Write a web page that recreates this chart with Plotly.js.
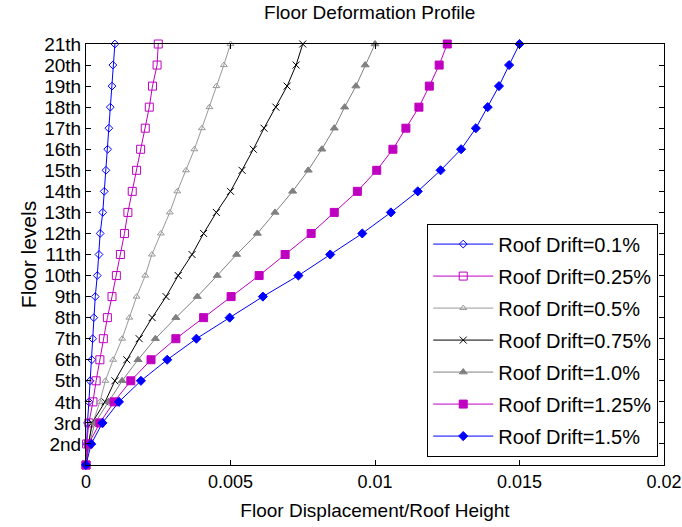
<!DOCTYPE html>
<html>
<head>
<meta charset="utf-8">
<script src="https://cdn.plot.ly/plotly-3.0.1.min.js"></script>
<style>html,body{margin:0;padding:0;background:#fff;}#chart{width:682px;height:527px;}</style>
</head>
<body>
<div id="chart"></div>
<script>
const floors = [1,2,3,4,5,6,7,8,9,10,11,12,13,14,15,16,17,18,19,20,21];
const floorTickVals = [2,3,4,5,6,7,8,9,10,11,12,13,14,15,16,17,18,19,20,21];
const floorTickText = ["2nd","3rd","4th","5th","6th","7th","8th","9th","10th","11th","12th","13th","14th","15th","16th","17th","18th","19th","20th","21th"];
const seriesNames = ["Roof Drift=0.1%","Roof Drift=0.25%","Roof Drift=0.5%","Roof Drift=0.75%","Roof Drift=1.0%","Roof Drift=1.25%","Roof Drift=1.5%"];
const drift010 = [0,0.00002,0.00005,0.0001,0.00014,0.0002,0.00023,0.00027,0.00032,0.00039,0.00045,0.00049,0.00058,0.00063,0.00069,0.00075,0.00079,0.00084,0.0009,0.00093,0.001];
const drift025 = [0,0.00002,0.0001,0.00024,0.00035,0.00048,0.0006,0.00074,0.0009,0.00105,0.00119,0.00133,0.00145,0.0016,0.00175,0.00189,0.00205,0.00219,0.0023,0.00246,0.0025];
const drift050 = [0,0.00007,0.00024,0.00048,0.00067,0.00094,0.00125,0.0015,0.00175,0.00205,0.00228,0.00259,0.0029,0.00316,0.00346,0.00375,0.00401,0.00427,0.00451,0.00477,0.005];
const drift075 = [0,0.00009,0.00021,0.00066,0.001,0.00141,0.00184,0.00229,0.00277,0.00319,0.00367,0.00407,0.00451,0.005,0.0054,0.00579,0.00616,0.00657,0.00696,0.00727,0.0075];
const drift100 = [0,0.00011,0.00031,0.00078,0.00125,0.0018,0.0024,0.00311,0.00385,0.00454,0.00521,0.00593,0.00654,0.00715,0.00769,0.00816,0.00859,0.00895,0.00934,0.00966,0.01];
const drift125 = [0,0.00009,0.00048,0.00097,0.00155,0.00225,0.00311,0.00407,0.00502,0.00599,0.00689,0.00779,0.00859,0.00939,0.01006,0.01062,0.01107,0.01152,0.01188,0.01222,0.0125];
const drift150 = [0,0.00018,0.00057,0.00114,0.0019,0.00281,0.00382,0.00497,0.00612,0.00735,0.00845,0.00956,0.01055,0.01148,0.01227,0.01298,0.01349,0.0139,0.01429,0.01464,0.015];
const xTickVals = [0,0.005,0.01,0.015,0.02];
const xTickText = ["0","0.005","0.01","0.015","0.02"];

const seriesData = [drift010,drift025,drift050,drift075,drift100,drift125,drift150];
const colors = ["#0000ff","#c000c0","#999999","#000000","#808080","#c000c0","#0000ff"];
const symbols = ["diamond-open","square-open","triangle-up-open","x-thin-open","triangle-up","square","diamond"];
const sizes = [6,8,6,7,7,8,7];

const traces = seriesData.map((d,i)=>({
  x: d, y: floors, type:"scatter", mode:"lines+markers", name: seriesNames[i],
  legendgroup: "g"+i,
  line:{color:colors[i], width:1},
  marker:{symbol:symbols[i], size:sizes[i], color:colors[i], line:{color:colors[i], width:1}},
  cliponaxis:false
}));

const fontFam = "Liberation Sans, Arial, sans-serif";
const layout = {
  width:682, height:527,
  margin:{l:86, r:18, t:44, b:62},
  paper_bgcolor:"#fff", plot_bgcolor:"#fff",
  font:{family:fontFam, color:"#000", size:19},
  title:{text:"Floor Deformation Profile", x:0.542, xanchor:"center", y:0.99, yanchor:"top", font:{size:19, family:fontFam}},
  xaxis:{range:[0,0.02], tickvals:xTickVals, ticktext:xTickText, ticks:"inside", ticklen:5, tickcolor:"#000",
    showline:true, linecolor:"#000", linewidth:1, mirror:"ticks", showgrid:false, zeroline:false,
    tickfont:{size:18}, title:{text:"Floor Displacement/Roof Height", font:{size:19}, standoff:13}},
  yaxis:{range:[1,21], tickvals:floorTickVals, ticktext:floorTickText, ticks:"inside", ticklen:5, tickcolor:"#000",
    showline:true, linecolor:"#000", linewidth:1, mirror:"ticks", showgrid:false, zeroline:false,
    tickfont:{size:19}, title:{text:"Floor levels", font:{size:21}, standoff:1}},
  legend:{x:0.99, xanchor:"right", y:0.02, yanchor:"bottom", bgcolor:"#fff", bordercolor:"#000", borderwidth:1,
    font:{size:20, family:fontFam}, tracegroupgap:3, itemwidth:60},
  showlegend:true
};
Plotly.newPlot("chart", traces, layout, {displayModeBar:false, staticPlot:true});
</script>
</body>
</html>
